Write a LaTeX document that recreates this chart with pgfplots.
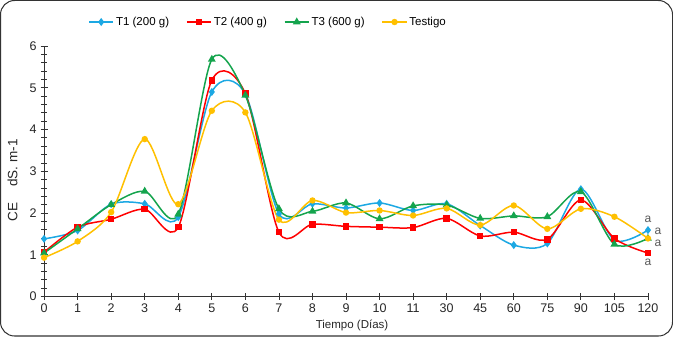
\documentclass[border=0pt]{standalone}
\usepackage{pgfplots}
\pgfplotsset{compat=1.18}
\usepackage{fontspec}
\setmainfont{Liberation Sans}
\definecolor{cT1}{HTML}{1CA8E3}
\definecolor{cT2}{HTML}{FF0000}
\definecolor{cT3}{HTML}{14A44D}
\definecolor{cT4}{HTML}{FFC000}
\definecolor{agray}{HTML}{595959}
\pgfplotstableread{
x T1 T2 T3 T4
0 1.38 1.06 1.04 0.93
1 1.58 1.66 1.62 1.32
2 2.21 1.85 2.20 2.02
3 2.22 2.09 2.52 3.77
4 1.90 1.66 1.97 2.21
5 4.90 5.18 5.68 4.45
6 4.85 4.86 4.82 4.41
7 1.98 1.54 2.10 1.84
8 2.22 1.73 2.04 2.30
9 2.12 1.68 2.24 2.01
10 2.24 1.66 1.86 2.06
11 2.06 1.65 2.17 1.94
12 2.22 1.87 2.19 2.11
13 1.70 1.45 1.87 1.71
14 1.23 1.54 1.93 2.18
15 1.27 1.37 1.91 1.62
16 2.57 2.31 2.51 2.10
17 1.35 1.39 1.25 1.91
18 1.59 1.04 1.39 1.39
}\data
\begin{document}
\fontsize{11.5bp}{13bp}\selectfont
\begin{tikzpicture}
\draw[black!80, line width=1bp, rounded corners=14bp] (-43.5bp,-39.5bp) rectangle (627.5bp,295.5bp);
\begin{axis}[
  at={(0,0)}, anchor=south west,
  scale only axis, width=603bp, height=250bp,
  xmin=0, xmax=18, ymin=0, ymax=6,
  axis x line=bottom, axis y line=left,
  axis line style={-, black!80, line width=0.8bp},
  xtick={0,...,18},
  xticklabels={0,1,2,3,4,5,6,7,8,9,10,11,30,45,60,75,90,105,120},
  ytick={0,1,2,3,4,5,6},
  minor y tick num=4,
  tick align=center,
  major tick length=7bp, minor tick length=6bp,
  tick style={black!80, line width=0.8bp},
  /pgf/number format/assume math mode=true,
  tick label style={font=\fontsize{12.5bp}{14bp}\selectfont, black!85},
  xlabel={Tiempo (Días)}, ylabel={CE\hspace{16bp}dS. m-1},
  xlabel style={at={(axis description cs:0.51,-0.116)}, anchor=center, font=\fontsize{11.5bp}{13bp}\selectfont, black!85},
  ylabel style={at={(axis description cs:-0.052,0.464)}, anchor=center, font=\fontsize{13.5bp}{15bp}\selectfont, black!85},
  clip=false,
  legend columns=4,
  legend style={at={(axis description cs:0.371,1.096)}, anchor=center, draw=none, fill=none,
    font=\fontsize{11.5bp}{13bp}\selectfont, /tikz/every even column/.append style={column sep=15bp}},
  legend image code/.code={\draw[#1] (0cm,0cm) -- (0.85cm,0cm); \draw[#1, only marks] plot coordinates {(0.425cm,0cm)};},
  every axis plot/.append style={line width=1.5bp, smooth, tension=0.5},
]
\addplot[cT1, mark=diamond*, mark size=2.8bp, mark options={solid}] table[x=x,y=T1]{\data};
\addlegendentry{T1 (200 g)}
\addplot[cT2, mark=square*, mark size=2.5bp] table[x=x,y=T2]{\data};
\addlegendentry{T2 (400 g)}
\addplot[cT3, mark=triangle*, mark size=3.1bp] table[x=x,y=T3]{\data};
\addlegendentry{T3 (600 g)}
\addplot[cT4, mark=*, mark size=2.4bp] table[x=x,y=T4]{\data};
\addlegendentry{Testigo}
\node[agray, font=\fontsize{12bp}{13bp}\selectfont] at (axis cs:18,1.85) {a};
\node[agray, font=\fontsize{12bp}{13bp}\selectfont] at (axis cs:18.3,1.55) {a};
\node[agray, font=\fontsize{12bp}{13bp}\selectfont] at (axis cs:18.3,1.28) {a};
\node[agray, font=\fontsize{12bp}{13bp}\selectfont] at (axis cs:18,0.82) {a};
\end{axis}
\end{tikzpicture}
\end{document}
